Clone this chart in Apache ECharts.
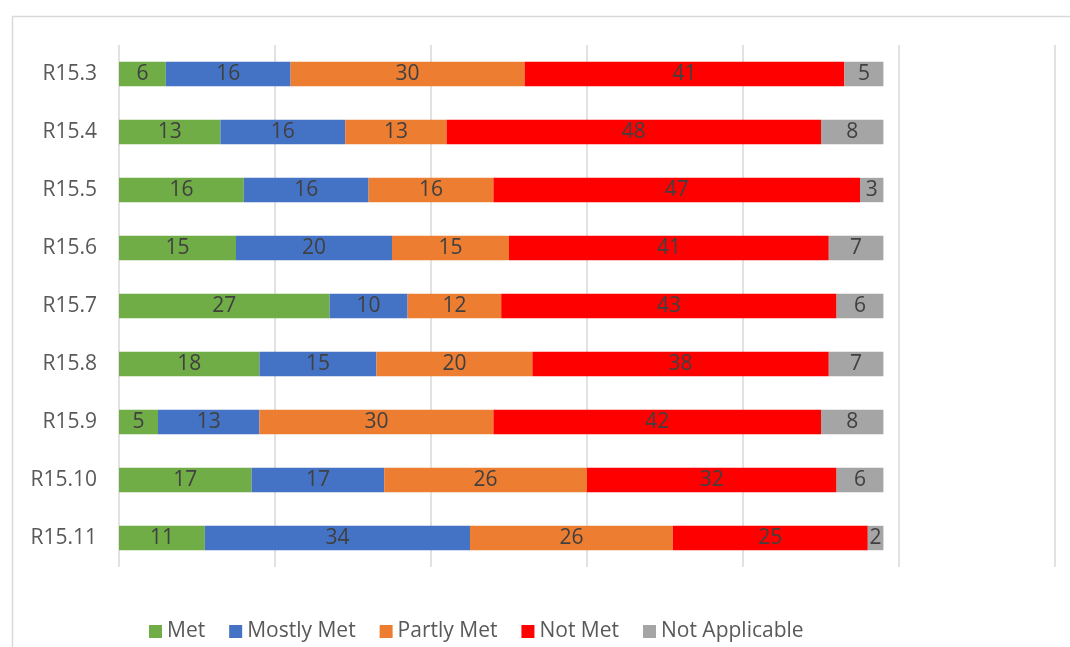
<!DOCTYPE html>
<html>
<head>
<meta charset="utf-8">
<script src="https://cdn.jsdelivr.net/npm/echarts@6/dist/echarts.min.js"></script>
<style>html,body{margin:0;padding:0;background:#fff;}#c{width:1070px;height:647px;}</style>
</head>
<body>
<div id="c"></div>
<script>
var categories = ["R15.3","R15.4","R15.5","R15.6","R15.7","R15.8","R15.9","R15.10","R15.11"];
var met = [6,13,16,15,27,18,5,17,11];
var mostlyMet = [16,16,16,20,10,15,13,17,34];
var partlyMet = [30,13,16,15,12,20,30,26,26];
var notMet = [41,48,47,41,43,38,42,32,25];
var notApplicable = [5,8,3,7,6,7,8,6,2];
var seriesNames = ["Met","Mostly Met","Partly Met","Not Met","Not Applicable"];
var seriesColors = ["#70AD47","#4472C4","#ED7D31","#FF0000","#A5A5A5"];
var seriesData = [met, mostlyMet, partlyMet, notMet, notApplicable];

var FONT = "Open Sans";
var chart = echarts.init(document.getElementById('c'));
var series = seriesData.map(function(d, i){
  return {
    name: seriesNames[i], type: 'bar', stack: 'total', data: d,
    barWidth: '42%',
    itemStyle: {color: seriesColors[i]},
    label: {show: true, position: 'inside', color: '#404040', fontSize: 21, fontFamily: FONT},
    emphasis: {disabled: true}
  };
});
chart.setOption({
  animation: false,
  graphic: [{type: 'rect', left: 10, top: 14, shape: {width: 1100, height: 700},
    style: {fill: 'none', stroke: '#D9D9D9', lineWidth: 1.5}, silent: true}],
  grid: {left: 119, right: 15, top: 45, bottom: 80},
  xAxis: {type: 'value', min: 0, max: 120, interval: 20,
    axisLabel: {show: false}, axisLine: {show: false}, axisTick: {show: false},
    splitLine: {show: true, lineStyle: {color: '#D9D9D9', width: 1.5}}},
  yAxis: {type: 'category', data: categories, inverse: true,
    axisLine: {show: false}, axisTick: {show: false},
    axisLabel: {color: '#595959', fontSize: 21, fontFamily: FONT, margin: 22}},
  legend: {bottom: 0, left: 144, itemWidth: 13, itemHeight: 13, itemGap: 24,
    icon: 'rect', textStyle: {color: '#595959', fontSize: 21, fontFamily: FONT},
    data: seriesNames},
  series: series
});
</script>
</body>
</html>
